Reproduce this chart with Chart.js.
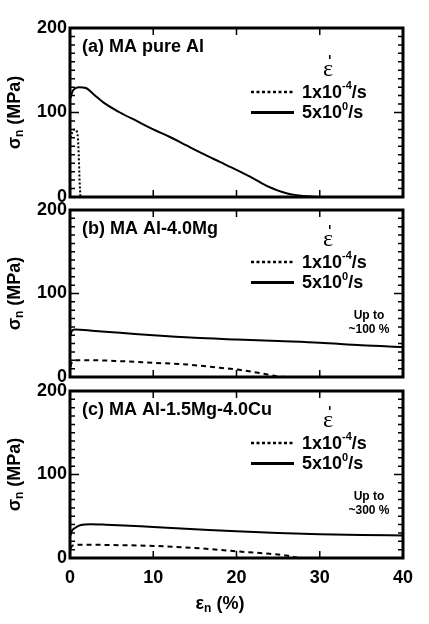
<!DOCTYPE html>
<html>
<head>
<meta charset="utf-8">
<script src="https://cdn.jsdelivr.net/npm/chart.js@4/dist/chart.umd.min.js"></script>
<style>
body { margin: 0; background: #fff; }
#wrap { position: relative; width: 429px; height: 624px; }
canvas { position: absolute; left: 0; top: 0; }
</style>
</head>
<body>
<div id="wrap">
  <canvas id="panelA" width="429" height="624"></canvas>
  <canvas id="panelB" width="429" height="624"></canvas>
  <canvas id="panelC" width="429" height="624"></canvas>
</div>
<script>
// strain (%) / nominal stress (MPa)
const strainA_fast = [0.05, 0.3, 0.7, 1.1, 1.9, 2.9, 4, 6, 8, 10, 12, 14, 16, 18, 20, 22, 23, 24, 25, 26, 27, 28, 30];
const stressA_fast = [117, 125, 129, 130, 129, 121, 112, 100, 90, 80, 71, 61, 51, 41.5, 32, 22, 16.5, 11.5, 7.5, 4.5, 2.5, 1.3, 0];
const strainA_slow = [0.05, 0.3, 0.55, 0.8, 0.95, 1.05, 1.15, 1.25];
const stressA_slow = [70, 77, 80, 78, 70, 50, 20, 0];

const strainB_fast = [0.05, 0.2, 0.6, 3, 6, 10, 15, 20, 25, 30, 35, 40];
const stressB_fast = [50, 55, 57, 55, 53, 50, 47, 45, 43, 41, 38, 36];
const strainB_slow = [0.05, 0.2, 0.6, 3, 6, 10, 14, 18, 20, 22, 24, 25, 26.5];
const stressB_slow = [12, 17, 20, 20, 19, 17, 15, 11, 9, 6, 2.5, 0.5, 0];

const strainC_fast = [0.05, 0.2, 0.6, 1.3, 2.5, 4, 6.5, 10, 15, 20, 25, 30, 35, 40];
const stressC_fast = [27, 32, 36, 39.5, 40.5, 40, 39, 37, 34.5, 32, 30, 28.5, 27.5, 27];
const strainC_slow = [0.05, 0.2, 0.6, 2, 5, 10, 15, 20, 24, 26, 27.5];
const stressC_slow = [11, 14, 15.5, 16, 15.5, 14.5, 12, 8, 5, 3, 0];

const xTicks = [0, 10, 20, 30, 40];
const yTicks = [0, 100, 200];
const panelLabels = ['(a) MA pure Al', '(b) MA Al-4.0Mg', '(c) MA Al-1.5Mg-4.0Cu'];
const notes = [null, ['Up to', '~100 %'], ['Up to', '~300 %']];
const rateSlow = ['1x10', '-4', '/s'];
const rateFast = ['5x10', '0', '/s'];

const FONT = '"Liberation Sans", Arial, sans-serif';

function toPoints(xs, ys) {
    return xs.map((x, i) => ({ x: x, y: ys[i] }));
}

// text with a raised or lowered small part
function drawScripted(ctx, parts, x, y, big, small, shift) {
    ctx.font = 'bold ' + big + 'px ' + FONT;
    ctx.fillText(parts[0], x, y);
    x += ctx.measureText(parts[0]).width;
    ctx.font = 'bold ' + small + 'px ' + FONT;
    ctx.fillText(parts[1], x, y + shift);
    x += ctx.measureText(parts[1]).width;
    ctx.font = 'bold ' + big + 'px ' + FONT;
    ctx.fillText(parts[2], x, y);
}

function scriptedWidth(ctx, parts, big, small) {
    ctx.font = 'bold ' + big + 'px ' + FONT;
    let w = ctx.measureText(parts[0]).width + ctx.measureText(parts[2]).width;
    ctx.font = 'bold ' + small + 'px ' + FONT;
    return w + ctx.measureText(parts[1]).width;
}

const panelDecor = {
    id: 'panelDecor',
    afterDraw(chart, args, opts) {
        const ctx = chart.ctx;
        const a = chart.chartArea;
        const xs = chart.scales.x, ys = chart.scales.y;
        ctx.save();
        ctx.strokeStyle = '#000';
        ctx.fillStyle = '#000';

        // inner tick marks
        ctx.lineWidth = 1.5;
        ctx.beginPath();
        for (let v = 10; v < 200; v += 10) {
            const py = ys.getPixelForValue(v);
            const len = v === 100 ? 9 : 5;
            ctx.moveTo(a.left, py); ctx.lineTo(a.left + len, py);
            ctx.moveTo(a.right, py); ctx.lineTo(a.right - len, py);
        }
        for (const v of xTicks.slice(1, -1)) {
            const px = xs.getPixelForValue(v);
            ctx.moveTo(px, a.top); ctx.lineTo(px, a.top + 7);
            ctx.moveTo(px, a.bottom); ctx.lineTo(px, a.bottom - 7);
        }
        ctx.stroke();

        // frame
        ctx.lineWidth = 3;
        ctx.strokeRect(a.left, a.top, a.right - a.left, a.bottom - a.top);

        // panel label
        ctx.textBaseline = 'middle';
        ctx.textAlign = 'left';
        ctx.font = 'bold 18px ' + FONT;
        ctx.fillText(opts.label, 82, a.top + 19);

        // legend
        const lo = opts.legendShift;
        ctx.font = '24px "Liberation Serif", serif';
        ctx.textAlign = 'center';
        ctx.fillText('\u03b5', 328, a.top + 30 + lo);
        ctx.fillRect(329, a.top + 15 + lo, 1.5, 4);
        ctx.textAlign = 'left';
        const yS = a.top + 52 + lo, yF = a.top + 72.5 + lo;
        ctx.lineWidth = 2.5;
        ctx.setLineDash([3, 2.5]);
        ctx.beginPath(); ctx.moveTo(251, yS); ctx.lineTo(294, yS); ctx.stroke();
        ctx.setLineDash([]);
        ctx.lineWidth = 3;
        ctx.beginPath(); ctx.moveTo(251, yF); ctx.lineTo(294, yF); ctx.stroke();
        drawScripted(ctx, rateSlow, 302, yS + 1, 18, 11, -7);
        drawScripted(ctx, rateFast, 302, yF + 1, 18, 11, -7);

        // note
        if (opts.note) {
            ctx.textAlign = 'center';
            ctx.font = 'bold 12px ' + FONT;
            ctx.fillText(opts.note[0], 369, a.top + 106);
            ctx.fillText(opts.note[1], 369, a.top + 120);
        }

        // y title
        ctx.save();
        ctx.translate(15, (a.top + a.bottom) / 2);
        ctx.rotate(-Math.PI / 2);
        ctx.textAlign = 'left';
        const yTitle = ['\u03c3', 'n', ' (MPa)'];
        drawScripted(ctx, yTitle, -scriptedWidth(ctx, yTitle, 18, 12) / 2, 0, 18, 12, 5);
        ctx.restore();

        // x title
        if (opts.xTitle) {
            ctx.textAlign = 'left';
            const xTitle = ['\u03b5', 'n', ' (%)'];
            drawScripted(ctx, xTitle, 220 - scriptedWidth(ctx, xTitle, 18, 12) / 2, 604, 18, 12, 5);
        }
        ctx.restore();
    }
};

function makePanel(id, top, bottom, showX, fast, slow, slowDash, idx, legendShift) {
    new Chart(document.getElementById(id), {
        type: 'line',
        data: {
            datasets: [
                { data: fast, borderColor: '#000', borderWidth: 2, pointRadius: 0, cubicInterpolationMode: 'monotone' },
                { data: slow, borderColor: '#000', borderWidth: 2, borderDash: slowDash, pointRadius: 0, cubicInterpolationMode: 'monotone' }
            ]
        },
        options: {
            responsive: false,
            animation: false,
            events: [],
            layout: { padding: { top: top, left: 0, right: 26, bottom: showX ? 0 : 624 - bottom } },
            scales: {
                x: {
                    type: 'linear', min: 0, max: 40,
                    display: showX,
                    grid: { display: false, drawTicks: false },
                    border: { display: false },
                    ticks: {
                        stepSize: 10, padding: 9, color: '#000',
                        font: { family: FONT, size: 18, weight: 'bold' }
                    },
                    afterFit(s) { s.height = showX ? 624 - bottom : 0; }
                },
                y: {
                    min: 0, max: 200,
                    grid: { display: false, drawTicks: false },
                    border: { display: false },
                    afterBuildTicks(s) { s.ticks = yTicks.map(v => ({ value: v })); },
                    ticks: {
                        padding: 3, color: '#000',
                        font: { family: FONT, size: 18, weight: 'bold' }
                    },
                    afterFit(s) { s.width = 70; }
                }
            },
            plugins: {
                legend: { display: false },
                tooltip: { enabled: false },
                panelDecor: { label: panelLabels[idx], note: notes[idx], legendShift: legendShift, xTitle: showX }
            }
        },
        plugins: [panelDecor]
    });
}

makePanel('panelA', 28, 197, false, toPoints(strainA_fast, stressA_fast), toPoints(strainA_slow, stressA_slow), [2, 2], 0, 12);
makePanel('panelB', 210, 377, false, toPoints(strainB_fast, stressB_fast), toPoints(strainB_slow, stressB_slow), [5, 4], 1, 0);
makePanel('panelC', 391, 558, true, toPoints(strainC_fast, stressC_fast), toPoints(strainC_slow, stressC_slow), [5, 4], 2, 0);
</script>
</body>
</html>
